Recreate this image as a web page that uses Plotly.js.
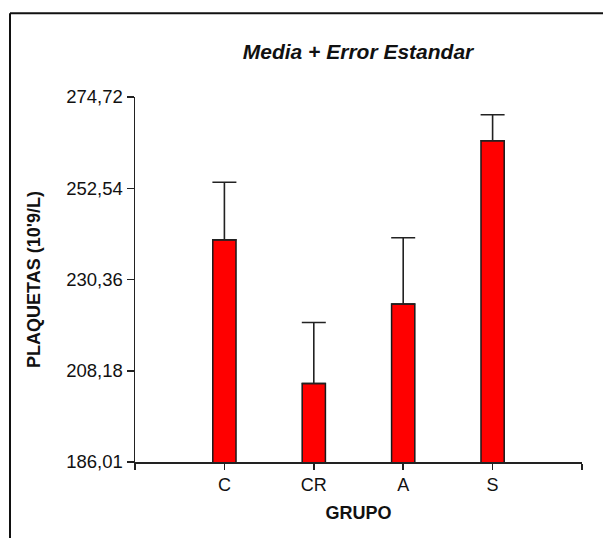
<!DOCTYPE html>
<html>
<head>
<meta charset="utf-8">
<script src="https://cdn.plot.ly/plotly-3.0.1.min.js"></script>
<style>
  html, body { margin: 0; padding: 0; background: #fff; }
  #chart { width: 603px; height: 538px; }
</style>
</head>
<body>
<div id="chart"></div>
<script>
// Data
var categories = ['C', 'CR', 'A', 'S'];
var means = [240.0, 205.1, 224.4, 264.1];
var stdErrors = [14.0, 14.8, 16.1, 6.3];
var yTickValues = [186.01, 208.18, 230.36, 252.54, 274.72];

var W = 603, H = 538;
var M = { l: 135, r: 21, t: 97, b: 76 };
var pw = W - M.l - M.r, ph = H - M.t - M.b;
function px2x(p) { return (p - M.l) / pw; }
function py2y(p) { return 1 - (p - M.t) / ph; }

var xPos = categories.map(function (c, i) { return i; });

var trace = {
  type: 'bar',
  x: xPos,
  y: means,
  width: 0.26,
  marker: { color: '#ff0000', line: { color: '#1a1a1a', width: 1.5 } },
  error_y: {
    type: 'data',
    symmetric: false,
    array: stdErrors,
    arrayminus: stdErrors.map(function () { return 0; }),
    color: '#222222',
    thickness: 1.6,
    width: 12
  },
  hoverinfo: 'x+y'
};

var layout = {
  width: W, height: H,
  margin: M,
  paper_bgcolor: '#ffffff',
  plot_bgcolor: '#ffffff',
  separators: ',.',
  showlegend: false,
  font: { family: 'Arial, "Liberation Sans", sans-serif', size: 18, color: '#111' },
  title: {
    text: 'Media + Error Estandar',
    font: { family: 'Arial, "Liberation Sans", sans-serif', size: 21, style: 'italic', weight: 'bold', color: '#111' },
    x: 358 / W, xanchor: 'center', xref: 'container',
    y: 1 - 52 / H, yanchor: 'middle', yref: 'container'
  },
  xaxis: {
    range: [-1, 4],
    tickmode: 'array',
    tickvals: [-1, 0, 1, 2, 3, 4],
    ticktext: [''].concat(categories).concat(['']),
    ticks: 'outside', ticklen: 6, tickwidth: 1.5, tickcolor: '#222',
    showline: true, linecolor: '#222', linewidth: 1.5,
    showgrid: false, zeroline: false,
    tickfont: { size: 18, color: '#111' },
    title: { text: 'GRUPO', font: { size: 18, weight: 'bold', color: '#111' }, standoff: 12 },
    automargin: false,
    fixedrange: true
  },
  yaxis: {
    range: [186.01, 274.72],
    tickmode: 'array',
    tickvals: yTickValues,
    tickformat: '.2f',
    ticks: 'outside', ticklen: 7, tickwidth: 1.5, tickcolor: '#222',
    showline: true, linecolor: '#222', linewidth: 1.5,
    showgrid: false, zeroline: false,
    tickfont: { size: 18.5, color: '#111' },
    title: { text: "PLAQUETAS (10'9/L)", font: { size: 18, weight: 'bold', color: '#111' }, standoff: 21 },
    automargin: false,
    fixedrange: true
  },
  shapes: [
    { type: 'line', xref: 'paper', yref: 'paper',
      x0: px2x(10), x1: px2x(603), y0: py2y(13.3), y1: py2y(13.3),
      line: { color: '#111', width: 2 } },
    { type: 'line', xref: 'paper', yref: 'paper',
      x0: px2x(10), x1: px2x(10), y0: py2y(13.3), y1: py2y(540),
      line: { color: '#111', width: 2 } }
  ]
};

Plotly.newPlot('chart', [trace], layout, { staticPlot: true, displayModeBar: false });
</script>
</body>
</html>
